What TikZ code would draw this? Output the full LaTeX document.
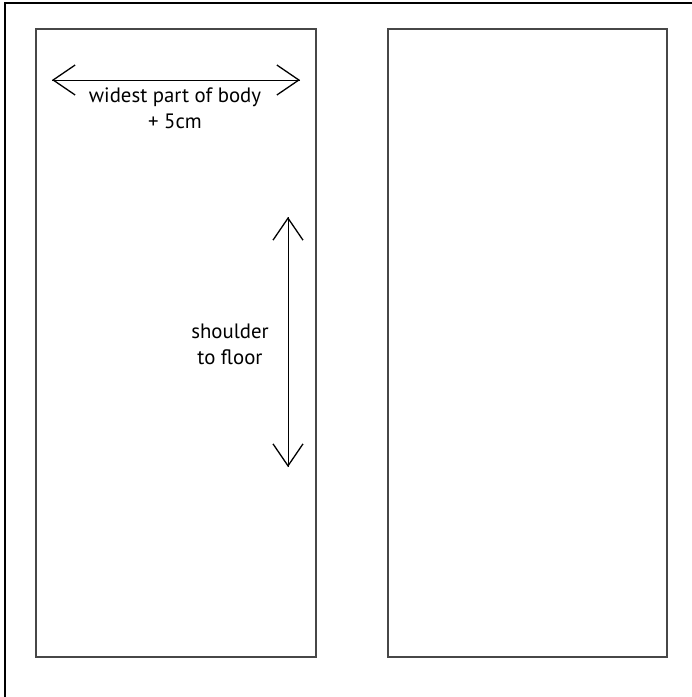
\documentclass[tikz,border=0pt]{standalone}
\usepackage{fontspec}
\setmainfont{PT Sans}
\usetikzlibrary{arrows.meta}
\tikzset{
  panel/.style={draw=black!72, line width=1.5pt},
  barb/.tip={Straight Barb[length=22pt,width=30pt,line width=1.3pt]_[length=0pt,sep=0pt]},
  measure/.style={line width=1pt, barb-barb},
  lbl/.style={align=center, inner sep=0pt, font=\fontsize{20.8}{26}\selectfont}
}
\begin{document}
\begin{tikzpicture}[x=1pt,y=-1pt]
\useasboundingbox (0,0) rectangle (692,697);
% page edge
\draw[line width=1.5pt] (5,697) -- (5,3) -- (692,3);

% the two panels
\draw[panel] (36,29) rectangle (316,657);
\draw[panel] (388,29) rectangle (667,657);

% width across the top
\coordinate (wl) at (52,80);
\coordinate (wr) at (300,80);
\draw[measure] (wl) -- (wr);
\node[lbl] (width) at (175,108) {widest part of body\\+ 5cm};

% length down the side
\coordinate (lt) at (288,217);
\coordinate (lb) at (288,467);
\draw[measure] (lt) -- (lb);
\node[lbl] (length) at (230,344) {shoulder\\to floor};
\end{tikzpicture}
\end{document}
